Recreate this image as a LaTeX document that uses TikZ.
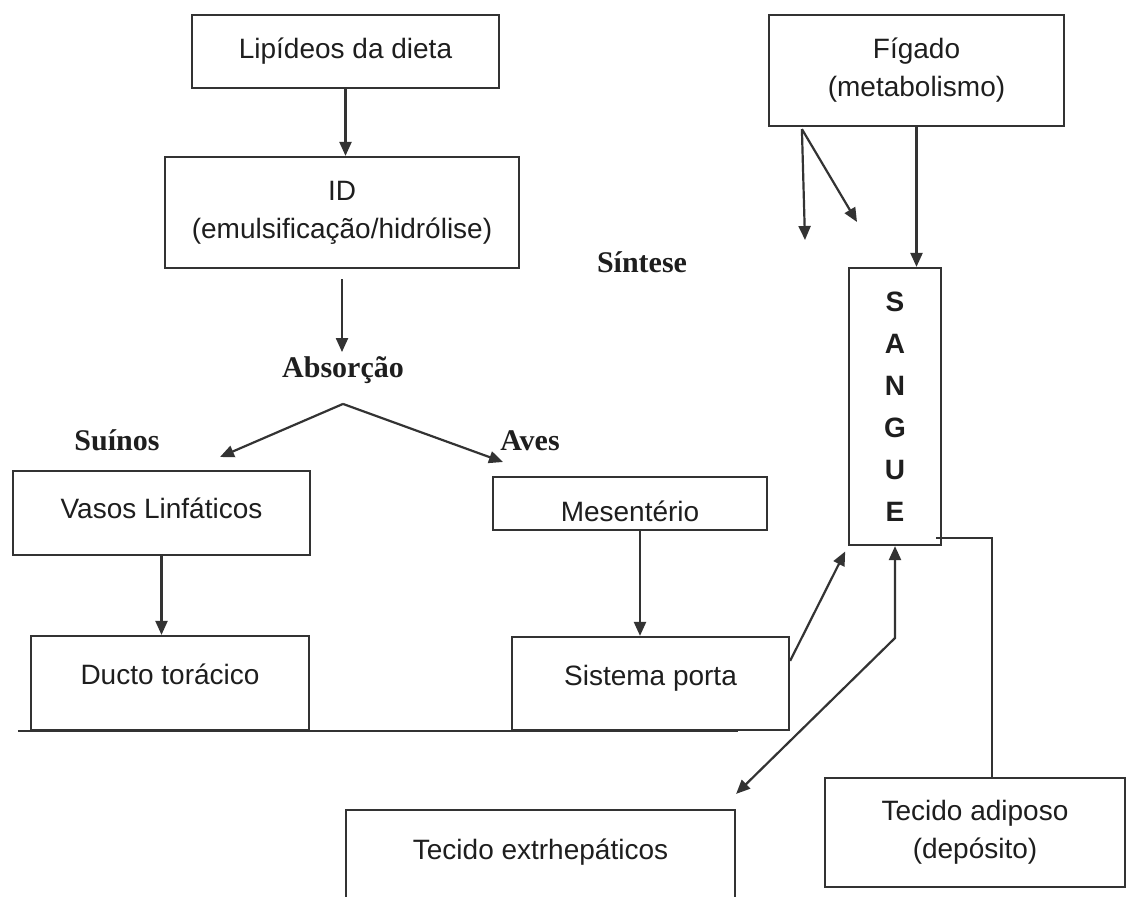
\documentclass[tikz,border=0pt]{standalone}
\usepackage{fontspec}
\setmainfont{Liberation Serif}
\newfontfamily\boxfont{Liberation Sans}
\usetikzlibrary{arrows.meta}
\definecolor{inkgray}{HTML}{333333}
\definecolor{inktext}{HTML}{1E1E1E}
\tikzset{
	box/.style={draw=inkgray, line width=1.1pt, rectangle, inner sep=0pt, text=inktext,
		align=center, font=\boxfont\fontsize{14}{19}\selectfont},
	tag/.style={inner sep=0pt, text=inktext, font=\bfseries\fontsize{15}{18}\selectfont},
	flow/.style={draw=inkgray, line width=1.1pt, -{Triangle[length=7pt,width=6pt]}},
	twoway/.style={draw=inkgray, line width=1.1pt, {Triangle[length=7pt,width=6pt]}-{Triangle[length=7pt,width=6pt]}},
	plain/.style={draw=inkgray, line width=1.1pt}
}
\begin{document}
\begin{tikzpicture}[x=0.5pt, y=-0.5pt]
	\useasboundingbox (0,0) rectangle (1129,897);
	\node[box, minimum width=153.5pt, minimum height=36.5pt] (lipid) at (345.5,51.5) {Lipídeos da dieta};
	\node[box, minimum width=177pt, minimum height=55.5pt] (id) at (342,212.5) {ID\\(emulsificação/hidrólise)};
	\node[box, minimum width=147.5pt, minimum height=55.5pt] (figado) at (916.5,70.5) {Fígado\\(metabolismo)};
	\node[box, minimum width=46pt, minimum height=138.5pt,
		font=\boxfont\bfseries\fontsize{14}{21}\selectfont] (sangue) at (895,406.5) {S\\A\\N\\G\\U\\E};
	\node[box, minimum width=148.5pt, minimum height=42pt, text depth=5pt] (vasos) at (161.5,513) {Vasos Linfáticos};
	\node[box, minimum width=137pt, minimum height=26.5pt, text height=18pt] (meso) at (630,503.5) {Mesentério};
	\node[box, minimum width=139pt, minimum height=47pt, text depth=9pt] (ducto) at (170,683) {Ducto torácico};
	\node[box, minimum width=138.5pt, minimum height=46.5pt, text depth=8.4pt] (porta) at (650.5,683.5) {Sistema porta};
	\node[box, minimum width=194.5pt, minimum height=55pt, text depth=15.5pt] (extr) at (540.5,865) {Tecido extrhepáticos};
	\node[box, minimum width=150pt, minimum height=54.5pt] (adiposo) at (975,832.5) {Tecido adiposo\\(depósito)};
	\node[tag] (sintese) at (642,262) {Síntese};
	\node[tag] (absorcao) at (343,370) {Absorção};
	\node[tag] (suinos) at (117,440) {Suínos};
	\node[tag] (aves) at (530,441) {Aves};
	\coordinate (apex) at ([yshift=-10pt]absorcao.south);
	\coordinate (intoVasos) at (220,457);
	\coordinate (intoMeso) at (503,462);
	\coordinate (dropA) at (805,240);
	\coordinate (dropB) at (857,222);
	\coordinate (junct) at (895,638);
	\draw[flow] (lipid.south) -- (lipid.south |- id.north);
	\draw[flow, shorten <=5pt, shorten >=2pt] (id.south) -- (id.south |- absorcao.north);
	\draw[flow] (apex) -- (intoVasos);
	\draw[flow] (apex) -- (intoMeso);
	\draw[flow] (vasos.south) -- (vasos.south |- ducto.north);
	\draw[flow] ([xshift=5pt]meso.south) -- ([xshift=5pt]meso.south |- porta.north);
	\draw[flow] (figado.south) -- (figado.south |- sangue.north);
	\draw[flow] ([xshift=17pt,yshift=-1pt]figado.south west) -- (dropA);
	\draw[flow] ([xshift=17pt,yshift=-1pt]figado.south west) -- (dropB);
	\draw[flow, shorten >=3pt] ([yshift=-12.5pt]porta.north east) -- (sangue.south west);
	\draw[twoway] ([yshift=7.5pt]extr.north east) -- (junct) -- (sangue.south);
	\draw[plain] ([shift={(-3pt,4pt)}]sangue.south east) -| ([xshift=8.5pt]adiposo.north);
	\draw[plain] ([xshift=-6pt]ducto.south west) -- ([xshift=-26pt]porta.south east);
\end{tikzpicture}
\end{document}
